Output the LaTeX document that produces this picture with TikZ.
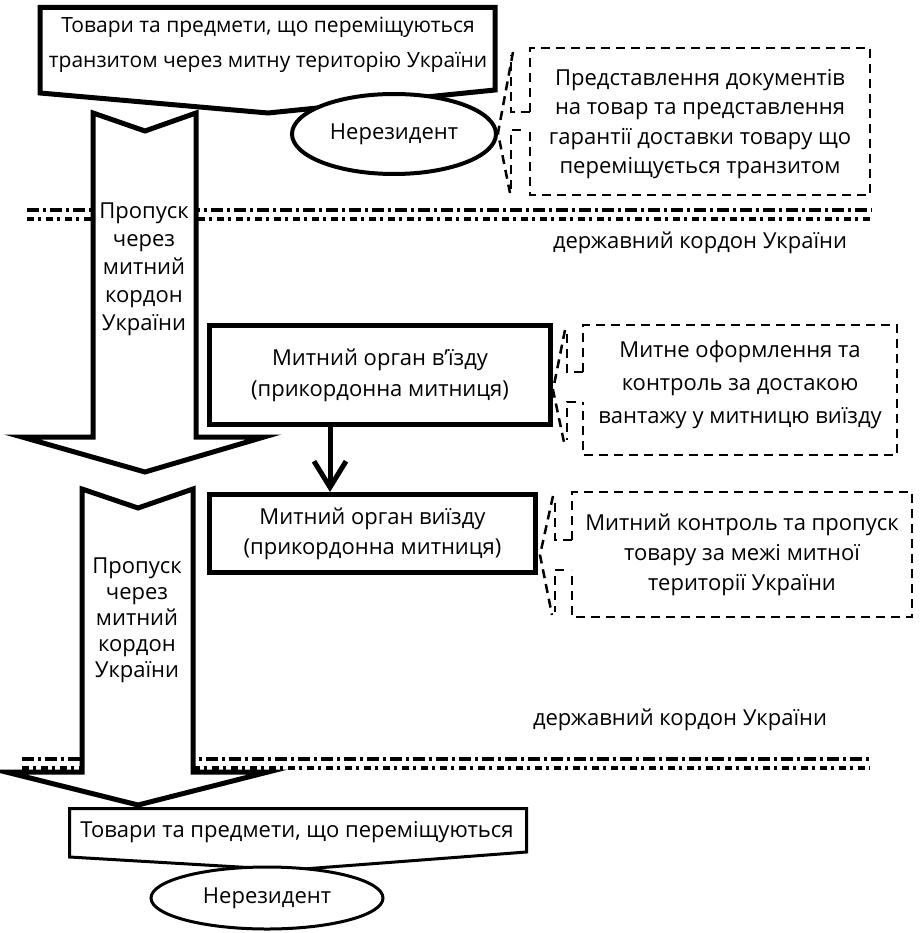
\documentclass[tikz,border=0pt]{standalone}
\usepackage{fontspec}
\setmainfont{Open Sans}
\usepackage{tikz}
\usetikzlibrary{shapes.geometric,arrows.meta,positioning}

\begin{document}
\begin{tikzpicture}[x=1pt, y=-1pt, font=\fontsize{22}{30}\selectfont]
    % Define styles
    \tikzstyle{organ} = [rectangle, draw, line width=5pt, fill=white, align=center, inner sep=0pt]
    \tikzstyle{resident} = [ellipse, draw, fill=white, inner sep=0pt]
    \tikzstyle{note} = [line width=2.5pt, dash pattern=on 9pt off 6pt]
    \tikzstyle{blockarrow} = [draw, line width=5pt, fill=white, line join=miter]
    \tikzstyle{border} = [line width=3.5pt, dash pattern=on 12pt off 4pt on 3pt off 4pt]
    \tikzstyle{borderlow} = [line width=3.5pt, dash pattern=on 7pt off 4pt on 3pt off 5pt]
    \tikzstyle{label} = [align=center, inner sep=0pt]
    \tikzstyle{connector} = [line width=5pt, -{Straight Barb[length=26pt, width=32pt]}]

    \useasboundingbox (0,0) rectangle (919,933);

    % State border lines
    \draw[border] (27,210) -- (872,210);
    \draw[borderlow] (27,219) -- (872,219);
    \draw[border] (22,759) -- (870,759);
    \draw[borderlow] (22,768) -- (870,768);
    \node[label] (border1) at (700,243) {державний кордон України};
    \node[label] (border2) at (680,720) {державний кордон України};

    % Passage arrows
    \draw[blockarrow] (93,113) -- (145,131) -- (196,113) -- (196,437) -- (264,437) -- (145,472) -- (22,437) -- (93,437) -- cycle;
    \draw[blockarrow] (82,489) -- (138,508) -- (193,489) -- (193,772) -- (268,772) -- (138,805) -- (6,772) -- (82,772) -- cycle;
    \node[label, font=\fontsize{22}{28}\selectfont] (pass1) at (144,269) {Пропуск\\через\\митний\\кордон\\України};
    \node[label, font=\fontsize{22}{26}\selectfont] (pass2) at (137,620) {Пропуск\\через\\митний\\кордон\\України};

    % Goods
    \draw[line width=5pt, fill=white] (40,7.5) -- (495,7.5) -- (495,90) -- (268,113) -- (40,93) -- cycle;
    \node[label, font=\fontsize{21}{35}\selectfont] (goods) at (268,45) {Товари та предмети, що переміщуються\\транзитом через митну територію України};
    \node[resident, line width=4pt, minimum width=204pt, minimum height=80pt] (res1) at (394,134) {Нерезидент};

    \draw[line width=3pt, fill=white] (69.5,808.5) -- (526.5,808.5) -- (526.5,852) -- (290,870) -- (69.5,857) -- cycle;
    \node[label] (goodsout) at (297,832) {Товари та предмети, що переміщуються};
    \node[resident, line width=3pt, minimum width=232pt, minimum height=62pt] (res2) at (267,898) {Нерезидент};

    % Customs bodies
    \node[organ, minimum width=341pt, minimum height=99pt, font=\fontsize{22}{31}\selectfont] (entry) at (380,375) {Митний орган в’їзду\\(прикордонна митниця)};
    \node[organ, minimum width=326pt, minimum height=78pt] (exit) at (372.5,533.5) {Митний орган виїзду\\(прикордонна митниця)};
    \draw[connector] ([xshift=-50pt]entry.south) -- ([xshift=-50pt]entry.south |- exit.north);

    % Notes
    \draw[note] (530,112) -- (530,48) -- (870,48) -- (870,195) -- (530,195) -- (530,130);
    \draw[note] (530,112) -- (511,112) -- (511,55);
    \draw[note] (521,130) -- (511,130) -- (511,192);
    \draw[note] (513,52) -- (498,133) -- (510,193);
    \node[label, font=\fontsize{22}{29.5}\selectfont] (docs) at (700,124) {Представлення документів\\на товар та представлення\\гарантії доставки товару що\\переміщується транзитом};

    \draw[note] (583,372) -- (583,325) -- (897,325) -- (897,455) -- (583,455) -- (583,402);
    \draw[note] (583,372) -- (567,372) -- (567,333);
    \draw[note] (576,402) -- (567,402) -- (567,440);
    \draw[note] (565,330) -- (553,390) -- (565,447);
    \node[label, font=\fontsize{22}{33}\selectfont] (clearance) at (740,385) {Митне оформлення та\\контроль за достакою\\вантажу у митницю виїзду};

    \draw[note] (572,540) -- (572,492) -- (912,492) -- (912,617) -- (572,617) -- (572,570);
    \draw[note] (572,540) -- (555,540) -- (555,498);
    \draw[note] (564,570) -- (555,570) -- (555,612);
    \draw[note] (553,496) -- (540,555) -- (552,615);
    \node[label] (control) at (742,555) {Митний контроль та пропуск\\товару за межі митної\\території України};
\end{tikzpicture}
\end{document}
